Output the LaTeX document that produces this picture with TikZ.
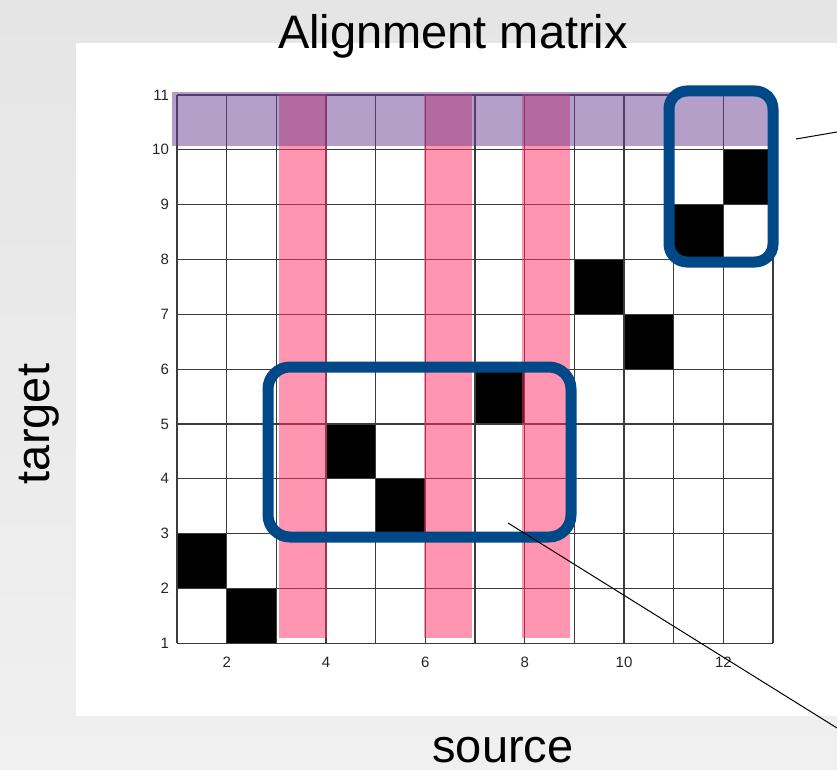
\documentclass[tikz,border=0pt]{standalone}
\usepackage{fontspec}
\setmainfont{Liberation Sans}
\definecolor{bgtop}{RGB}{229,229,229}
\definecolor{bgbot}{RGB}{240,240,240}
\definecolor{gridgray}{RGB}{60,60,60}
\definecolor{rowpurple}{RGB}{105,65,145}
\definecolor{colpink}{RGB}{255,45,101}
\definecolor{boxblue}{RGB}{0,73,137}
\tikzset{
  gridline/.style={draw=gridgray, line width=1.3pt},
  cell/.style={fill=black},
  pinkband/.style={fill=colpink, fill opacity=0.5},
  purpleband/.style={fill=rowpurple, fill opacity=0.5},
  bluebox/.style={draw=boxblue, line width=11pt, rectangle, inner sep=0pt},
  callout/.style={draw=black, line width=1pt},
  ticklabel/.style={font=\fontsize{15}{15}\selectfont, text=black!85, inner sep=1pt},
  bigtext/.style={font=\fontsize{47}{47}\selectfont, inner sep=0pt},
}
\begin{document}
\begin{tikzpicture}[x=1pt,y=-1pt]
\useasboundingbox (0,0) rectangle (837,770);
% page background and white panel
\shade[top color=bgtop, bottom color=bgbot] (0,0) rectangle (837,770);
\fill[white] (76,43) rectangle (837,716);

% alignment grid in data coordinates (source x = 1..13, target y = 1..11)
\begin{scope}[shift={(127.33,698.13)}, x=49.67pt, y=54.83pt]
  % aligned cells
  \foreach \cx/\cy in {1/2, 2/1, 4/4, 5/3, 7/5, 9/7, 10/6, 11/8, 12/9}
    \fill[cell] (\cx,\cy) rectangle ++(1,1);
  % cell borders
  \foreach \i in {1,...,13}
    \draw[gridline] (\i,1) -- (\i,11);
  \foreach \j in {1,...,11}
    \draw[gridline] (1,\j) -- (13,\j);
  % tick labels
  \foreach \i in {2,4,...,12}
    \node[ticklabel] (xtick\i) at (\i,0.66) {\i};
  \foreach \j in {1,...,11}
    \node[ticklabel, anchor=east] (ytick\j) at (0.86,\j) {\j};
\end{scope}

% highlighted source columns
\fill[pinkband] (279,94) rectangle (327,638);
\fill[pinkband] (424,94) rectangle (472,638);
\fill[pinkband] (522,94) rectangle (570,638);
% highlighted target row
\fill[purpleband] (172,92) rectangle (770,146);

% grouping boxes
\node[bluebox, rounded corners=22pt, minimum width=303pt, minimum height=170pt] (bigbox) at (419.5,452) {};
\node[bluebox, rounded corners=18pt, minimum width=104pt, minimum height=171pt] (smallbox) at (721,176.5) {};

% callout lines
\coordinate (bigstart) at (508,523);
\coordinate (bigend) at (837,728);
\coordinate (smallstart) at (796,139);
\coordinate (smallend) at (837,132);
\draw[callout] (bigstart) -- (bigend);
\draw[callout] (smallstart) -- (smallend);

% titles
\node[bigtext, anchor=base] (title) at (453,49) {Alignment matrix};
\node[bigtext, anchor=base] (xlabel) at (503,762) {source};
\node[bigtext, anchor=base, rotate=90] (ylabel) at (49,424) {target};
\end{tikzpicture}
\end{document}
